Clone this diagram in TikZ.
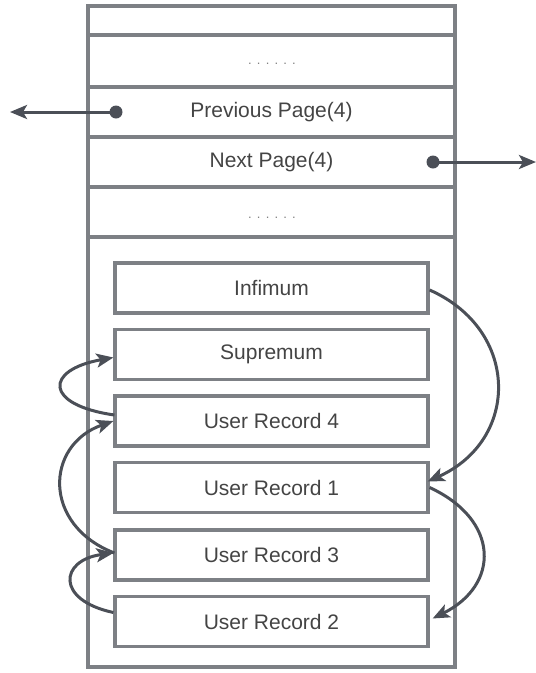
\documentclass[tikz,border=0pt]{standalone}
\usepackage{fontspec}
\setmainfont{Liberation Sans}
\usetikzlibrary{arrows.meta,calc}
\definecolor{frame}{HTML}{7D8085}
\definecolor{arr}{HTML}{4B4F57}
\definecolor{txt}{HTML}{444444}
\definecolor{dotc}{HTML}{808080}
\begin{document}
\begin{tikzpicture}[x=1pt,y=-1pt,
  row/.style={draw=frame, line width=3.2pt, minimum width=367pt, inner sep=0pt,
    font=\fontsize{21}{24}\selectfont, text=txt},
  rec/.style={draw=frame, line width=3.2pt, minimum width=313pt, minimum height=50pt,
    inner sep=0pt, font=\fontsize{21}{24}\selectfont, text=txt},
  dots/.style={font=\fontsize{13}{15}\selectfont\addfontfeature{LetterSpace=40}, text=dotc, inner sep=0pt},
  link/.style={draw=arr, line width=3pt, -{Stealth[length=17pt,width=14pt,inset=4pt]}},
  pin/.style={circle, fill=arr, minimum size=13pt, inner sep=0pt}
]
\useasboundingbox (0,0) rectangle (536,673);
% outer page rows
\node[row, minimum height=29pt] (r0) at (271.5,20.5) {};
\node[row, minimum height=52pt] (r1) at (271.5,61) {};
\node[row, minimum height=50pt] (r2) at (271.5,112) {Previous Page(4)};
\node[row, minimum height=50pt] (r3) at (271.5,162) {Next Page(4)};
\node[row, minimum height=50pt] (r4) at (271.5,212) {};
\node[row, minimum height=430pt] (r5) at (271.5,452) {};
\node[dots] (d1) at (272,64) {......};
\node[dots] (d2) at (272,218) {......};
% records
\node[rec] (inf) at (271.5,288) {Infimum};
\node[rec] (sup) at (271.5,354.5) {Supremum};
\node[rec] (u4) at (271.5,421) {User Record 4};
\node[rec] (u1) at (271.5,487.5) {User Record 1};
\node[rec] (u3) at (271.5,555) {User Record 3};
\node[rec] (u2) at (271.5,621.5) {User Record 2};
% page pointers
\node[pin] (pp) at (116,112) {};
\node[pin] (np) at (433,162) {};
\coordinate (pl) at (10,112);
\coordinate (nr) at (536,162);
\draw[link] (pp.center) -- (pl);
\draw[link] (np.center) -- (nr);
% record links
\draw[link] ($(inf.east)+(0,2)$) .. controls (520,330) and (520,440) .. ($(u1.east)+(-2,-6)$);
\draw[link] (u1.east) .. controls (500,520) and (500,585) .. ($(u2.east)+(3,-3)$);
\draw[link] ($(u4.west)+(1,-6)$) .. controls (44,405) and (44,370) .. ($(sup.west)+(0,3)$);
\draw[link] ($(u3.west)+(1,-2)$) .. controls (42,525) and (45,445) .. (u4.west);
\draw[link] ($(u2.west)+(0,-9)$) .. controls (55,600) and (60,560) .. ($(u3.west)+(0,-2)$);
\end{tikzpicture}
\end{document}
